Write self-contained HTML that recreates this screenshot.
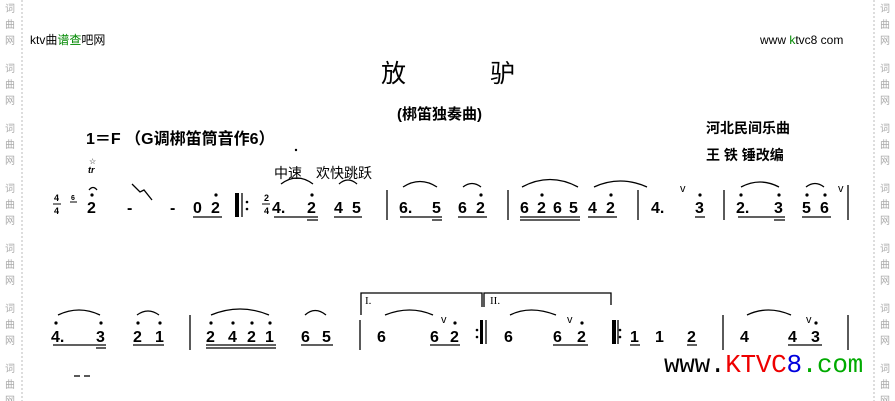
<!DOCTYPE html>
<html><head><meta charset="utf-8"><style>
body{margin:0;background:#fff}
svg{display:block}
.n{font:bold 16px "Liberation Sans",sans-serif;fill:#000}
.c{font-family:"Liberation Sans","Noto Sans CJK SC",sans-serif;fill:#000}
.w{font:10px "Noto Sans CJK SC",sans-serif;fill:#aaa}
</style></head><body>
<svg width="895" height="401" viewBox="0 0 895 401" xmlns="http://www.w3.org/2000/svg">
<line x1="22" y1="0" x2="22" y2="401" stroke="#bbb" stroke-dasharray="2,2"/>
<line x1="874" y1="0" x2="874" y2="401" stroke="#bbb" stroke-dasharray="2,2"/>
<g class="w">
<text x="5" y="12">词</text><text x="5" y="28">曲</text><text x="5" y="44">网</text>
<text x="5" y="72">词</text><text x="5" y="88">曲</text><text x="5" y="104">网</text>
<text x="5" y="132">词</text><text x="5" y="148">曲</text><text x="5" y="164">网</text>
<text x="5" y="192">词</text><text x="5" y="208">曲</text><text x="5" y="224">网</text>
<text x="5" y="252">词</text><text x="5" y="268">曲</text><text x="5" y="284">网</text>
<text x="5" y="312">词</text><text x="5" y="328">曲</text><text x="5" y="344">网</text>
<text x="5" y="372">词</text><text x="5" y="388">曲</text><text x="5" y="404">网</text>
<text x="880" y="12">词</text><text x="880" y="28">曲</text><text x="880" y="44">网</text>
<text x="880" y="72">词</text><text x="880" y="88">曲</text><text x="880" y="104">网</text>
<text x="880" y="132">词</text><text x="880" y="148">曲</text><text x="880" y="164">网</text>
<text x="880" y="192">词</text><text x="880" y="208">曲</text><text x="880" y="224">网</text>
<text x="880" y="252">词</text><text x="880" y="268">曲</text><text x="880" y="284">网</text>
<text x="880" y="312">词</text><text x="880" y="328">曲</text><text x="880" y="344">网</text>
<text x="880" y="372">词</text><text x="880" y="388">曲</text><text x="880" y="404">网</text>
</g>
<text class="c" x="30" y="44" font-size="12">ktv曲<tspan fill="#080">谱查</tspan>吧网</text>
<text class="c" x="760" y="44" font-size="12">www <tspan fill="#080">k</tspan>tvc8 com</text>
<text class="c" x="381" y="82" font-size="25">放</text>
<text class="c" x="490" y="82" font-size="25">驴</text>
<text class="c" x="397" y="119" font-size="15" font-weight="bold">(梆笛独奏曲)</text>
<text class="c" x="86" y="144" font-size="16" font-weight="bold">1＝F （G调梆笛筒音作6）</text>
<circle cx="296" cy="150" r="1.2"/>
<text class="c" x="706" y="133" font-size="14" font-weight="bold">河北民间乐曲</text>
<text class="c" x="706" y="160" font-size="14" font-weight="bold">王 铁 锤改编</text>
<text class="c" x="274" y="178" font-size="14">中速　欢快跳跃</text>

<g class="n">
<text x="54" y="201" font-size="9">4</text><line x1="53" y1="204" x2="61" y2="204" stroke="#000"/><text x="54" y="214" font-size="9">4</text>
<text x="71" y="200" font-size="7">6</text><line x1="70" y1="202" x2="77" y2="202" stroke="#000"/>
<text x="87" y="213">2</text>
<text x="88" y="173" font-size="9" font-style="italic">tr</text><text x="89" y="164" font-size="8" font-weight="normal">☆</text>
<text x="170" y="213">-</text><text x="127" y="213">-</text>
<text x="193" y="213">0</text><text x="211" y="213">2</text>
<text x="272" y="213">4.</text><text x="307" y="213">2</text>
<text x="334" y="213">4</text><text x="352" y="213">5</text>
<text x="399" y="213">6.</text><text x="432" y="213">5</text>
<text x="458" y="213">6</text><text x="476" y="213">2</text>
<text x="520" y="213">6</text><text x="537" y="213">2</text><text x="553" y="213">6</text><text x="569" y="213">5</text>
<text x="588" y="213">4</text><text x="606" y="213">2</text>
<text x="651" y="213">4.</text><text x="695" y="213">3</text>
<text x="736" y="213">2.</text><text x="774" y="213">3</text>
<text x="802" y="213">5</text><text x="820" y="213">6</text>
<text x="264" y="201" font-size="9">2</text><line x1="262" y1="204" x2="270" y2="204" stroke="#000"/><text x="264" y="214" font-size="9">4</text>
<text x="51" y="342">4.</text><text x="96" y="342">3</text>
<text x="133" y="342">2</text><text x="155" y="342">1</text>
<text x="206" y="342">2</text><text x="228" y="342">4</text><text x="247" y="342">2</text><text x="265" y="342">1</text>
<text x="301" y="342">6</text><text x="322" y="342">5</text>
<text x="377" y="342">6</text><text x="430" y="342">6</text><text x="450" y="342">2</text>
<text x="504" y="342">6</text><text x="553" y="342">6</text><text x="577" y="342">2</text>
<text x="630" y="342">1</text><text x="655" y="342">1</text><text x="687" y="342">2</text>
<text x="740" y="342">4</text><text x="788" y="342">4</text><text x="811" y="342">3</text>
</g>
<g font-family="Liberation Sans" font-size="11">
<text x="680" y="192">v</text><text x="838" y="192">v</text>
<text x="441" y="323">v</text><text x="567" y="323">v</text><text x="806" y="323">v</text>
</g>
<g fill="#000">
<circle cx="92" cy="195" r="1.6"/><circle cx="216" cy="195" r="1.6"/><circle cx="312" cy="195" r="1.6"/>
<circle cx="481" cy="195" r="1.6"/><circle cx="542" cy="195" r="1.6"/><circle cx="611" cy="195" r="1.6"/>
<circle cx="700" cy="195" r="1.6"/><circle cx="741" cy="195" r="1.6"/><circle cx="779" cy="195" r="1.6"/>
<circle cx="807" cy="195" r="1.6"/><circle cx="825" cy="195" r="1.6"/>
<circle cx="56" cy="323" r="1.6"/><circle cx="101" cy="323" r="1.6"/><circle cx="138" cy="323" r="1.6"/><circle cx="160" cy="323" r="1.6"/>
<circle cx="211" cy="323" r="1.6"/><circle cx="233" cy="323" r="1.6"/><circle cx="252" cy="323" r="1.6"/><circle cx="270" cy="323" r="1.6"/>
<circle cx="455" cy="323" r="1.6"/><circle cx="582" cy="323" r="1.6"/><circle cx="816" cy="323" r="1.6"/>
<circle cx="247" cy="202" r="1.3"/><circle cx="247" cy="209" r="1.3"/>
<circle cx="477" cy="330" r="1.3"/><circle cx="477" cy="337" r="1.3"/>
<circle cx="620" cy="330" r="1.3"/><circle cx="620" cy="337" r="1.3"/>
<rect x="235" y="193" width="4" height="24"/><rect x="480" y="320" width="3" height="24"/><rect x="612" y="320" width="4" height="24"/>
</g>
<g stroke="#000" stroke-width="1.3" fill="none">
<line x1="242" y1="193" x2="242" y2="217"/><line x1="486" y1="320" x2="486" y2="344"/><line x1="618" y1="320" x2="618" y2="344"/>
<path d="M132 184 L140 192 L144 190 L152 200"/>
<line x1="387" y1="190" x2="387" y2="220"/><line x1="508" y1="190" x2="508" y2="220"/><line x1="638" y1="190" x2="638" y2="220"/>
<line x1="724" y1="190" x2="724" y2="220"/><line x1="848" y1="185" x2="848" y2="220"/>
<line x1="190" y1="315" x2="190" y2="350"/><line x1="360" y1="320" x2="360" y2="350"/><line x1="723" y1="315" x2="723" y2="350"/><line x1="848" y1="315" x2="848" y2="350"/>
<path d="M193 217H222 M274 217H318 M334 217H362 M400 217H442 M458 217H487 M520 217H580 M588 217H617 M695 217H705 M738 217H785 M802 217H831"/>
<path d="M307 220H318 M432 220H442 M520 220H580 M774 220H785"/>
<path d="M53 345H106 M133 345H164 M206 345H276 M301 345H333 M430 345H460 M553 345H588 M630 345H640 M687 345H697 M788 345H822 M96 348H106 M206 348H276"/>
<line x1="74" y1="376" x2="80" y2="376"/><line x1="84" y1="376" x2="90" y2="376"/>
<path d="M281 184Q297 172 313 184 M339 184Q348 176 357 184 M403 187Q420 176 437 187 M463 187Q472 180 481 187 M522 187Q550 172 578 187 M594 187Q620 175 647 187 M741 187Q760 177 779 187 M806 187Q815 180 824 187"/>
<path d="M58 315Q79 305 100 315 M137 315Q148 307 159 315 M211 315Q240 303 269 315 M305 315Q315 306 326 315 M385 315Q410 305 433 315 M510 315Q530 305 556 315 M747 315Q768 305 791 315"/>
<path d="M89 190Q93 185 97 190"/>
<path d="M361 315V293H482V307 M484 307V293H611V305"/>
</g>
<text x="365" y="304" font-family="Liberation Serif" font-size="11">I.</text>
<text x="490" y="304" font-family="Liberation Serif" font-size="11">II.</text>
<text x="664" y="372" font-family="Liberation Mono" font-size="26" letter-spacing="-0.3"><tspan>www.</tspan><tspan fill="#e00">KTVC</tspan><tspan fill="#00d">8</tspan><tspan fill="#0a0">.com</tspan></text>
</svg>
</body></html>
